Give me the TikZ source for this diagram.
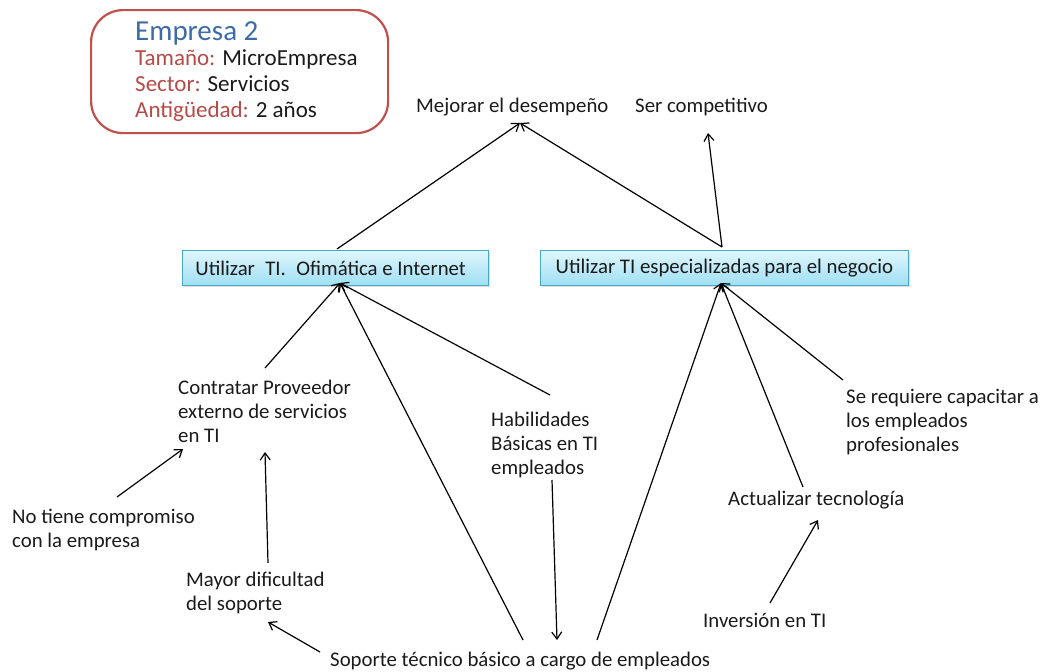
\documentclass[tikz,border=0pt]{standalone}
\usepackage{fontspec}
\setmainfont{Carlito}
\usetikzlibrary{arrows.meta,shadows}
\definecolor{redb}{HTML}{C0504D}
\definecolor{bluet}{HTML}{3D6BA6}
\definecolor{redt}{HTML}{B54A47}
\definecolor{cyb}{HTML}{46AAC5}
\definecolor{cytop}{HTML}{E0F6FC}
\definecolor{cybot}{HTML}{9FDFF4}
\definecolor{txt}{HTML}{1A1A1A}
\tikzset{
  lbl/.style={inner sep=0pt, anchor=north west, align=left, text=txt, font=\fontsize{20.8}{24}\selectfont},
  tibox/.style={draw=cyb, line width=0.8pt, top color=cytop, bottom color=cybot, minimum height=35pt, text=txt, font=\fontsize{20.8}{24}\selectfont, drop shadow={opacity=0.25, shadow xshift=1.5pt, shadow yshift=-1.5pt}},
  arr/.style={-{Straight Barb[length=7pt,width=10pt]}, line width=1.2pt, black}
}
\begin{document}
\begin{tikzpicture}[x=1pt,y=-1pt]
\useasboundingbox (0,0) rectangle (1042,672);
% company box
\node[draw=redb, line width=2.2pt, rounded corners=32pt, minimum width=297pt, minimum height=123pt, anchor=north west] (emp) at (90,9) {};
\node[inner sep=0pt, anchor=north west, align=left, font=\fontsize{23}{26}\selectfont] (info) at (135,21)
 {{\fontsize{29}{30}\selectfont\color{bluet}Empresa 2}\\[-1pt]
  {\color{redt}Tamaño:} {\color{txt}MicroEmpresa}\\
  {\color{redt}Sector:} {\color{txt}Servicios}\\
  {\color{redt}Antigüedad:} {\color{txt}2 años}};
% goals
\node[lbl] (mej) at (416,98) {Mejorar el desempeño};
\node[lbl] (ser) at (635,98) {Ser competitivo};
% TI boxes
\node[tibox, minimum width=306pt, anchor=north west, align=flush left, inner xsep=13pt, text width=280pt] (ti1) at (182,250) {Utilizar\hspace{0.5em}TI.\hspace{0.5em}Ofimática e Internet};
\node[tibox, minimum width=368pt, anchor=north west] (ti2) at (540,250) {Utilizar TI especializadas para el negocio};
% lower texts
\node[lbl] (con) at (178,380) {Contratar Proveedor\\externo de servicios\\en TI};
\node[lbl] (hab) at (491,412) {Habilidades\\Básicas en TI\\empleados};
\node[lbl] (sereq) at (846,389) {Se requiere capacitar a\\los empleados\\profesionales};
\node[lbl] (act) at (728,491) {Actualizar tecnología};
\node[lbl] (not) at (12,509) {No tiene compromiso\\con la empresa};
\node[lbl] (may) at (186,572) {Mayor dificultad\\del soporte};
\node[lbl] (inv) at (703,613) {Inversión en TI};
\node[lbl] (sop) at (330,652) {Soporte técnico básico a cargo de empleados};
% anchor coordinates
\coordinate (t1top) at (337,249);
\coordinate (t1bot) at (340,283);
\coordinate (t2top) at (722,247);
\coordinate (t2bot) at (721,283);
\coordinate (mejb) at (520,123);
\coordinate (serb) at (708,133);
% arrows
\draw[arr] (t1top) -- (mejb);
\draw[arr] (t2top) -- (mejb);
\draw[arr] (t2top) -- (serb);
\draw[arr] (265,368) -- (t1bot);
\draw[arr] (523,640) -- (t1bot);
\draw[arr] (550,395) -- (t1bot);
\draw[arr] (117,497) -- (183,449);
\draw[arr] (268,563) -- (265,452);
\draw[arr] (320,652) -- (268,622);
\draw[arr] (552,480) -- (557,640);
\draw[arr] (597,640) -- (t2bot);
\draw[arr] (803,487) -- (t2bot);
\draw[arr] (843,380) -- (t2bot);
\draw[arr] (770,603) -- (818,520);
\end{tikzpicture}
\end{document}
